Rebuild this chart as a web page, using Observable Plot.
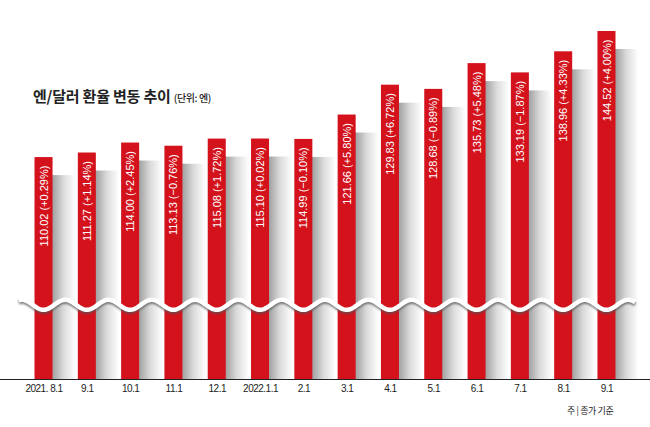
<!DOCTYPE html>
<html><head><meta charset="utf-8">
<script src="https://cdn.jsdelivr.net/npm/d3@7"></script>
<script src="https://cdn.jsdelivr.net/npm/@observablehq/plot@0.6"></script>
<style>
body{margin:0;background:#fff;}
#wrap{position:relative;width:650px;height:427px;overflow:hidden;}
#title{position:absolute;left:33px;top:85px;font-family:"Noto Sans CJK KR",sans-serif;font-weight:700;font-size:15px;letter-spacing:-0.2px;color:#222;white-space:nowrap;}
#title small{font-size:10px;font-weight:500;letter-spacing:-0.4px;}
#note{position:absolute;left:567px;top:404px;font-family:"Noto Sans CJK KR",sans-serif;font-size:9px;color:#222;letter-spacing:-0.4px;white-space:nowrap;}
g[aria-label^="x-axis"] text{letter-spacing:-0.5px;}
</style></head><body>
<div id="wrap"><div id="chart"></div>
<div id="title">엔/달러 환율 변동 추이 <small>(단위: 엔)</small></div>
<div id="note">주 | 종가 기준</div></div>
<script>
const months = ["2021-08","2021-09","2021-10","2021-11","2021-12","2022-01","2022-02","2022-03","2022-04","2022-05","2022-06","2022-07","2022-08","2022-09"];
const tickLabels = ["2021. 8.1","9.1","10.1","11.1","12.1","2022.1.1","2.1","3.1","4.1","5.1","6.1","7.1","8.1","9.1"];
const rates = [110.02,111.27,114.00,113.13,115.08,115.10,114.99,121.66,129.83,128.68,135.73,133.19,138.96,144.52];
const changes = [0.29,1.14,2.45,-0.76,1.72,0.02,-0.10,5.80,6.72,-0.89,5.48,-1.87,4.33,4.00];

const data = months.map((m,i)=>({month:m, rate:rates[i], change:changes[i]}));
const Y0 = 49.3, Y1 = 153.0, BREAK = 69.6;
const PI = 0.584, PO = 0.797;
const fmtChange = c => (c<0?"\u2212":"+") + Math.abs(c).toFixed(2) + "%";

const plot = Plot.plot({
  width:650, height:427, marginTop:0, marginBottom:48, marginLeft:0, marginRight:0,
  style:{background:"transparent", fontFamily:"'Liberation Sans', Arial, sans-serif", fontSize:"10px", color:"#222"},
  x:{domain:months, paddingInner:PI, paddingOuter:PO, align:0.5, round:false, tickSize:0, tickPadding:5,
     tickFormat:d=>tickLabels[months.indexOf(d)], label:null},
  y:{domain:[Y0,Y1], axis:null},
  marks:[
    Plot.barY(data,{x:"month", y1:Y0, y2:"rate", fill:"url(#shadowGrad)", dx:14, insetTop:18, insetRight:-9, ariaLabel:"shadow"}),
    Plot.barY(data,{x:"month", y1:Y0, y2:"rate", fill:"#d3121c"}),
    Plot.ruleY([Y0],{stroke:"#222", strokeWidth:1}),
    Plot.text(data,{x:"month", y:"rate", text:d=>d.rate.toFixed(2)+" ("+fmtChange(d.change)+")",
      rotate:-90, textAnchor:"end", dy:8, fill:"white", fontSize:11, ariaLabel:"labels"})
  ]
});

const svg = d3.select(plot);
svg.insert("defs", ":first-child").html(`
  <linearGradient id="shadowGrad" x1="0" x2="1" y1="0" y2="0">
    <stop offset="0" stop-color="#9c9c9c"/>
    <stop offset="0.2" stop-color="#a8a8a8"/>
    <stop offset="0.55" stop-color="#dadada"/>
    <stop offset="1" stop-color="#fff"/>
  </linearGradient>
  <filter id="shBlur" x="-50%" y="-30%" width="200%" height="160%"><feGaussianBlur stdDeviation="1.2 8"/></filter>
  <filter id="wvBlur" x="-5%" y="-100%" width="110%" height="300%"><feGaussianBlur stdDeviation="1"/></filter>
  <clipPath id="plotClip"><rect x="0" y="0" width="650" height="379"/></clipPath>`);
svg.select('g[aria-label="shadow"]').attr("filter","url(#shBlur)").attr("clip-path","url(#plotClip)");

// bold numbers in labels
svg.selectAll('g[aria-label="labels"] text').each(function(){
  const t = this.textContent, k = t.indexOf(" (");
  this.textContent = "";
  d3.select(this).append("tspan").attr("font-weight","bold").text(t.slice(0,k));
  d3.select(this).append("tspan").text(t.slice(k));
});

// axis break wave
const xb = d3.scaleBand(months,[0,650]).paddingInner(PI).paddingOuter(PO).align(0.5);
const ys = d3.scaleLinear([Y0,Y1],[379,0]);
const step = xb.step(), c0 = xb(months[0]) + xb.bandwidth()/2;
const cN = xb(months[months.length-1]) + xb.bandwidth()/2;
const xa = c0 - step/2 - 3, xz = cN + step/2 + 7;
const pts = d3.range(xa, xz, 1).concat([xz]).map(x => [x, ys(BREAK) + 5*Math.cos(2*Math.PI*(x-c0)/step)]);
const wave = d3.line()(pts);
const wg = svg.append("g").attr("aria-label","axis break");
wg.append("path").attr("d",wave).attr("fill","none").attr("stroke","#555").attr("stroke-width",4)
  .attr("transform","translate(0,2)").attr("filter","url(#wvBlur)").attr("opacity",0.8);
wg.append("path").attr("d",wave).attr("fill","none").attr("stroke","#fff").attr("stroke-width",4.5);

document.getElementById("chart").append(plot);
</script></body></html>
